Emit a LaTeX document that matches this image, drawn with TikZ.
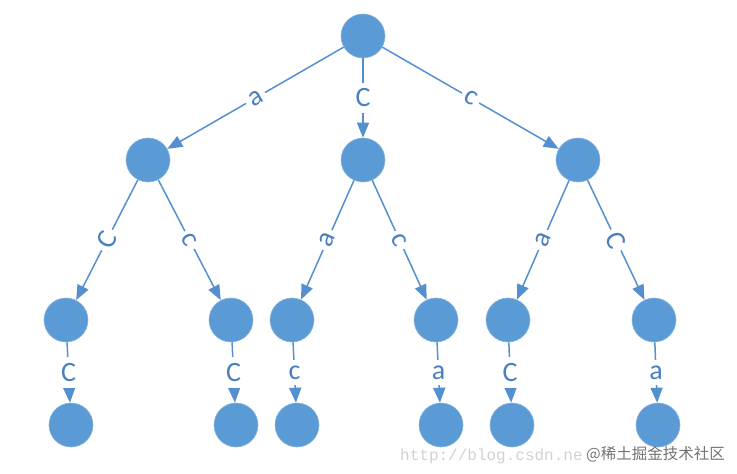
\documentclass[tikz,border=0pt]{standalone}
\usepackage{fontspec}
\setmainfont{Carlito}
\newfontfamily\wmfont{Liberation Mono}
\newfontfamily\cjkfont{Noto Sans CJK SC}
\usetikzlibrary{arrows.meta}
\definecolor{nodeblue}{HTML}{5B9BD5}
\definecolor{rimblue}{HTML}{86B3E0}
\definecolor{edgeblue}{HTML}{5490CF}
\definecolor{txtblue}{HTML}{4A80C0}
\tikzset{
  vert/.style={circle, fill=nodeblue, draw=rimblue, line width=0.6pt, minimum size=44pt, inner sep=0pt},
  edge/.style={draw=edgeblue, line width=1.5pt, -{Triangle[length=15pt,width=12pt]}},
  lbl/.style={midway, fill=white, text=txtblue, inner sep=6pt, font=\fontsize{28}{28}\selectfont},
  slbl/.style={lbl, sloped, inner sep=4pt}
}
\begin{document}
\begin{tikzpicture}[x=1pt,y=-1pt]
\useasboundingbox (0,0) rectangle (737,474);
% level 0
\node[vert] (r) at (363,36) {};
% level 1
\node[vert] (a) at (148,160) {};
\node[vert] (b) at (363,160) {};
\node[vert] (c) at (578,160) {};
% level 2
\node[vert] (a1) at (66,320) {};
\node[vert] (a2) at (231,320) {};
\node[vert] (b1) at (292,320) {};
\node[vert] (b2) at (436,320) {};
\node[vert] (c1) at (508,320) {};
\node[vert] (c2) at (654,320) {};
% level 3
\node[vert] (a1x) at (71,425) {};
\node[vert] (a2x) at (236,425) {};
\node[vert] (b1x) at (297,425) {};
\node[vert] (b2x) at (441,425) {};
\node[vert] (c1x) at (512,425) {};
\node[vert] (c2x) at (658,425) {};
% edges
\draw[edge] (r) -- node[slbl] {a} (a);
\draw[edge] (r) -- node[lbl] {C} (b);
\draw[edge] (r) -- node[slbl] {c} (c);
\draw[edge] (a) -- node[slbl] {C} (a1);
\draw[edge] (a) -- node[slbl] {c} (a2);
\draw[edge] (b) -- node[slbl] {a} (b1);
\draw[edge] (b) -- node[slbl] {c} (b2);
\draw[edge] (c) -- node[slbl] {a} (c1);
\draw[edge] (c) -- node[slbl] {C} (c2);
\draw[edge] (a1) -- node[lbl] {C} (a1x);
\draw[edge] (a2) -- node[lbl] {C} (a2x);
\draw[edge] (b1) -- node[lbl] {c} (b1x);
\draw[edge] (b2) -- node[lbl] {a} (b2x);
\draw[edge] (c1) -- node[lbl] {C} (c1x);
\draw[edge] (c2) -- node[lbl] {a} (c2x);
% watermark
\node[anchor=base west, inner sep=0pt, text=black!18, font=\wmfont\fontsize{16}{16}\selectfont] (wm) at (400,460) {http://blog.csdn.ne};
\node[anchor=base west, inner sep=0pt, text=black!55, font=\cjkfont\fontsize{15.5}{15.5}\selectfont] (wm2) at (586,459) {@稀土掘金技术社区};
\end{tikzpicture}
\end{document}
